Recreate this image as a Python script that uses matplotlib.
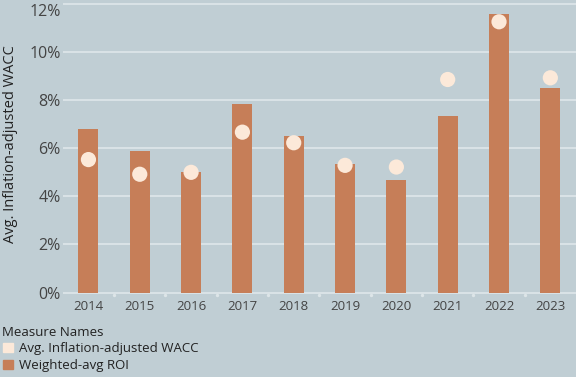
import matplotlib.pyplot as plt
import numpy as np
from matplotlib.patches import Patch

plt.rcParams['font.family'] = ['Open Sans', 'DejaVu Sans']

years = ['2014', '2015', '2016', '2017', '2018', '2019', '2020', '2021', '2022', '2023']
roi = [6.79, 5.88, 5.00, 7.83, 6.50, 5.33, 4.67, 7.33, 11.58, 8.50]
wacc = [5.53, 4.92, 5.00, 6.67, 6.23, 5.29, 5.22, 8.86, 11.26, 8.93]

bg = '#c0ced4'
bar_color = '#c67e58'
dot_color = '#fce9d9'

fig = plt.figure(figsize=(5.76, 3.77), dpi=100, facecolor=bg)
ax = fig.add_axes([0.109, 0.215, 0.891, 0.777], facecolor=bg)

x = np.arange(len(years))
ax.bar(x, roi, width=0.39, color=bar_color, zorder=2)
ax.scatter(x, wacc, s=120, color=dot_color, edgecolors='none', zorder=3)

ax.set_xlim(-0.5, len(years) - 0.5)
ax.set_ylim(-0.14, 12.04)
yt = [0, 2, 4, 6, 8, 10, 12]
ax.set_yticks(yt)
ax.set_yticklabels([f'{v}%' for v in yt])
ax.set_xticks(x)
ax.set_xticklabels(years)
ax.grid(axis='y', color='#dfe7ea', linewidth=1.2, zorder=1)
ax.tick_params(axis='both', length=0, colors='#444444')
ax.tick_params(axis='y', pad=1.5, labelsize=11.5)
ax.tick_params(axis='x', pad=3, labelsize=9.5)
for s in ax.spines.values():
    s.set_visible(False)
# keep the 12% label inside the figure like the original
ax.get_yticklabels()[-1].set_va('top')

# faint separators along the bottom
ax.scatter(x[:-1] + 0.5, [-0.1] * (len(x) - 1), s=2, color='#dde5e8', zorder=1, clip_on=False)

ax.set_ylabel('Avg. Inflation-adjusted WACC', fontsize=10.5, color='#222222')
ax.yaxis.set_label_coords(-0.088, 0.517)

fig.text(0.003, 0.119, 'Measure Names', fontsize=9.5, color='#222222', va='center')
handles = [Patch(color=dot_color), Patch(color=bar_color)]
leg = fig.legend(handles, ['Avg. Inflation-adjusted WACC', 'Weighted-avg ROI'],
                 loc='upper left', bbox_to_anchor=(0.006, 0.092), frameon=False,
                 fontsize=9.5, handlelength=0.72, handleheight=0.72, handletextpad=0.45,
                 labelspacing=0.3, borderaxespad=0, borderpad=0.0, labelcolor='#222222')

fig.savefig('out.png', dpi=100, facecolor=bg)
